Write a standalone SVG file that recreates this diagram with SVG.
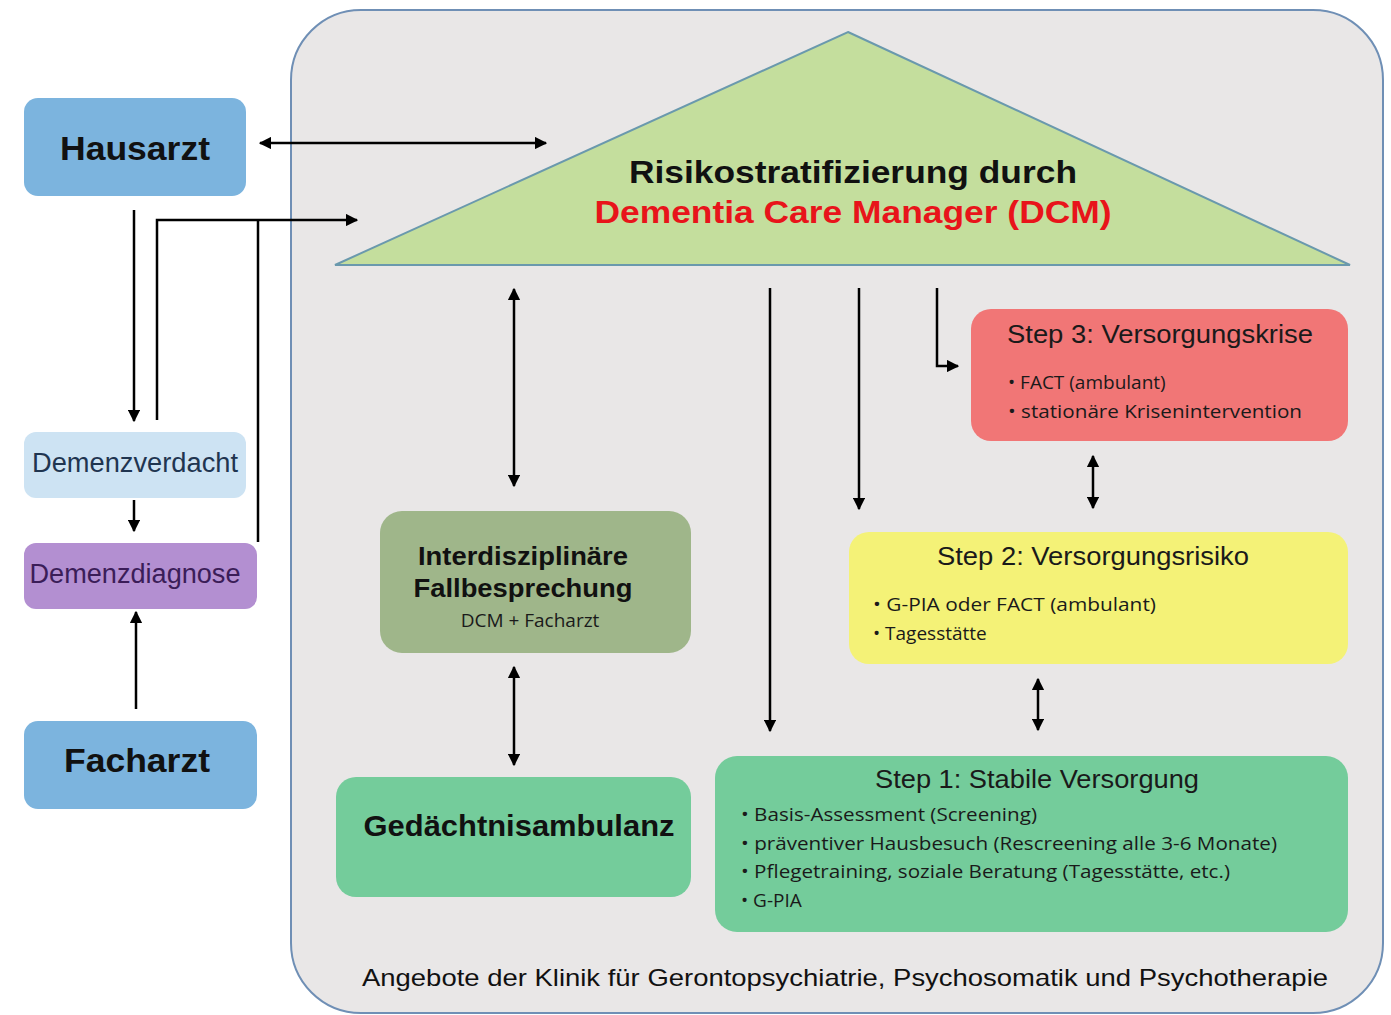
<svg xmlns="http://www.w3.org/2000/svg" width="1391" height="1015" viewBox="0 0 1391 1015">
<style>
.bg{fill:#ffffff}
.lbl{font-family:"Liberation Sans",Arial,sans-serif;fill:#111}
.b{font-weight:bold}
.bul{font-family:"Open Sans","Noto Sans",sans-serif;font-size:19px;fill:#1a1a1a}
.ttl{font-family:"Liberation Sans",Arial,sans-serif;font-size:26px;fill:#1a1a1a}
.ln{stroke:#000;stroke-width:2.5;fill:none}
</style>
<defs>
<marker id="ah" viewBox="0 0 10 10" refX="9" refY="5" markerWidth="5" markerHeight="5" orient="auto-start-reverse" markerUnits="strokeWidth">
<path d="M0,0 L10,5 L0,10 z" fill="#000"/>
</marker>
</defs>
<rect class="bg" x="0" y="0" width="1391" height="1015"/>
<g id="container">
<rect x="291" y="10" width="1092" height="1003" rx="70" ry="70" fill="#e9e7e7" stroke="#6f8fb5" stroke-width="2"/>
<text class="lbl" x="845" y="986" text-anchor="middle" font-size="24" textLength="966" lengthAdjust="spacingAndGlyphs">Angebote der Klinik für Gerontopsychiatrie, Psychosomatik und Psychotherapie</text>
</g>
<g id="dcm">
<polygon points="848,32 1350,265 335,265" fill="#c4de9d" stroke="#6a99ad" stroke-width="2"/>
<text class="lbl b" x="853" y="183" text-anchor="middle" font-size="31" textLength="448" lengthAdjust="spacingAndGlyphs">Risikostratifizierung durch</text>
<text class="lbl b" x="853" y="223" text-anchor="middle" font-size="31" style="fill:#e8141a" textLength="517" lengthAdjust="spacingAndGlyphs">Dementia Care Manager (DCM)</text>
</g>
<g id="hausarzt">
<rect x="24" y="98" width="222" height="98" rx="14" fill="#7cb4de"/>
<text class="lbl b" x="135" y="160" text-anchor="middle" font-size="34" textLength="150" lengthAdjust="spacingAndGlyphs">Hausarzt</text>
</g>
<g id="demenzverdacht">
<rect x="24" y="432" width="222" height="66" rx="12" fill="#cde3f3"/>
<text class="lbl" x="135" y="465" dominant-baseline="middle" text-anchor="middle" font-size="27" style="fill:#1f3550" textLength="206" lengthAdjust="spacingAndGlyphs">Demenzverdacht</text>
</g>
<g id="demenzdiagnose">
<rect x="24" y="543" width="233" height="66" rx="12" fill="#b38fd1"/>
<text class="lbl" x="135" y="576" dominant-baseline="middle" text-anchor="middle" font-size="27" style="fill:#3b1d58" textLength="211" lengthAdjust="spacingAndGlyphs">Demenzdiagnose</text>
</g>
<g id="facharzt">
<rect x="24" y="721" width="233" height="88" rx="14" fill="#7cb4de"/>
<text class="lbl b" x="137" y="772" text-anchor="middle" font-size="34" textLength="146" lengthAdjust="spacingAndGlyphs">Facharzt</text>
</g>
<g id="fallbesprechung">
<rect x="380" y="511" width="311" height="142" rx="22" fill="#9fb68a"/>
<text class="lbl b" x="523" y="565" text-anchor="middle" font-size="26" textLength="210" lengthAdjust="spacingAndGlyphs">Interdisziplinäre</text>
<text class="lbl b" x="523" y="597" text-anchor="middle" font-size="26" textLength="219" lengthAdjust="spacingAndGlyphs">Fallbesprechung</text>
<text class="bul" x="530" y="627" text-anchor="middle" font-size="19">DCM + Facharzt</text>
</g>
<g id="gedaechtnisambulanz">
<rect x="336" y="777" width="355" height="120" rx="20" fill="#74cc9b"/>
<text class="lbl b" x="519" y="836" text-anchor="middle" font-size="30" textLength="311" lengthAdjust="spacingAndGlyphs">Gedächtnisambulanz</text>
</g>
<g id="step3">
<rect x="971" y="309" width="377" height="132" rx="20" fill="#f17676"/>
<text class="ttl" x="1160" y="343" text-anchor="middle" textLength="306" lengthAdjust="spacingAndGlyphs">Step 3: Versorgungskrise</text>
<text class="bul" x="1008" y="389">• FACT (ambulant)</text>
<text class="bul" x="1008" y="418" textLength="294" lengthAdjust="spacingAndGlyphs">• stationäre Krisenintervention</text>
</g>
<g id="step2">
<rect x="849" y="532" width="499" height="132" rx="20" fill="#f4f277"/>
<text class="ttl" x="1093" y="565" text-anchor="middle" textLength="312" lengthAdjust="spacingAndGlyphs">Step 2: Versorgungsrisiko</text>
<text class="bul" x="873" y="611" textLength="283" lengthAdjust="spacingAndGlyphs">• G-PIA oder FACT (ambulant)</text>
<text class="bul" x="873" y="640">• Tagesstätte</text>
</g>
<g id="step1">
<rect x="715" y="756" width="633" height="176" rx="22" fill="#74cc9b"/>
<text class="ttl" x="1037" y="788" text-anchor="middle" textLength="324" lengthAdjust="spacingAndGlyphs">Step 1: Stabile Versorgung</text>
<text class="bul" x="741" y="821" textLength="296" lengthAdjust="spacingAndGlyphs">• Basis-Assessment (Screening)</text>
<text class="bul" x="741" y="850" textLength="536" lengthAdjust="spacingAndGlyphs">• präventiver Hausbesuch (Rescreening alle 3-6 Monate)</text>
<text class="bul" x="741" y="878" textLength="489" lengthAdjust="spacingAndGlyphs">• Pflegetraining, soziale Beratung (Tagesstätte, etc.)</text>
<text class="bul" x="741" y="907">• G-PIA</text>
</g>
<g id="connectors">
<line class="ln" x1="260" y1="143" x2="546" y2="143" marker-start="url(#ah)" marker-end="url(#ah)"/>
<polyline class="ln" points="157,420 157,220 357,220" marker-end="url(#ah)"/>
<line class="ln" x1="258" y1="542" x2="258" y2="220"/>
<line class="ln" x1="134" y1="210" x2="134" y2="421" marker-end="url(#ah)"/>
<line class="ln" x1="134" y1="500" x2="134" y2="531" marker-end="url(#ah)"/>
<line class="ln" x1="136" y1="709" x2="136" y2="612" marker-end="url(#ah)"/>
<line class="ln" x1="514" y1="289" x2="514" y2="486" marker-start="url(#ah)" marker-end="url(#ah)"/>
<line class="ln" x1="514" y1="667" x2="514" y2="765" marker-start="url(#ah)" marker-end="url(#ah)"/>
<line class="ln" x1="770" y1="288" x2="770" y2="731" marker-end="url(#ah)"/>
<line class="ln" x1="859" y1="288" x2="859" y2="509" marker-end="url(#ah)"/>
<polyline class="ln" points="937,288 937,366 958,366" marker-end="url(#ah)"/>
<line class="ln" x1="1093" y1="456" x2="1093" y2="508" marker-start="url(#ah)" marker-end="url(#ah)"/>
<line class="ln" x1="1038" y1="679" x2="1038" y2="730" marker-start="url(#ah)" marker-end="url(#ah)"/>
</g>
</svg>
